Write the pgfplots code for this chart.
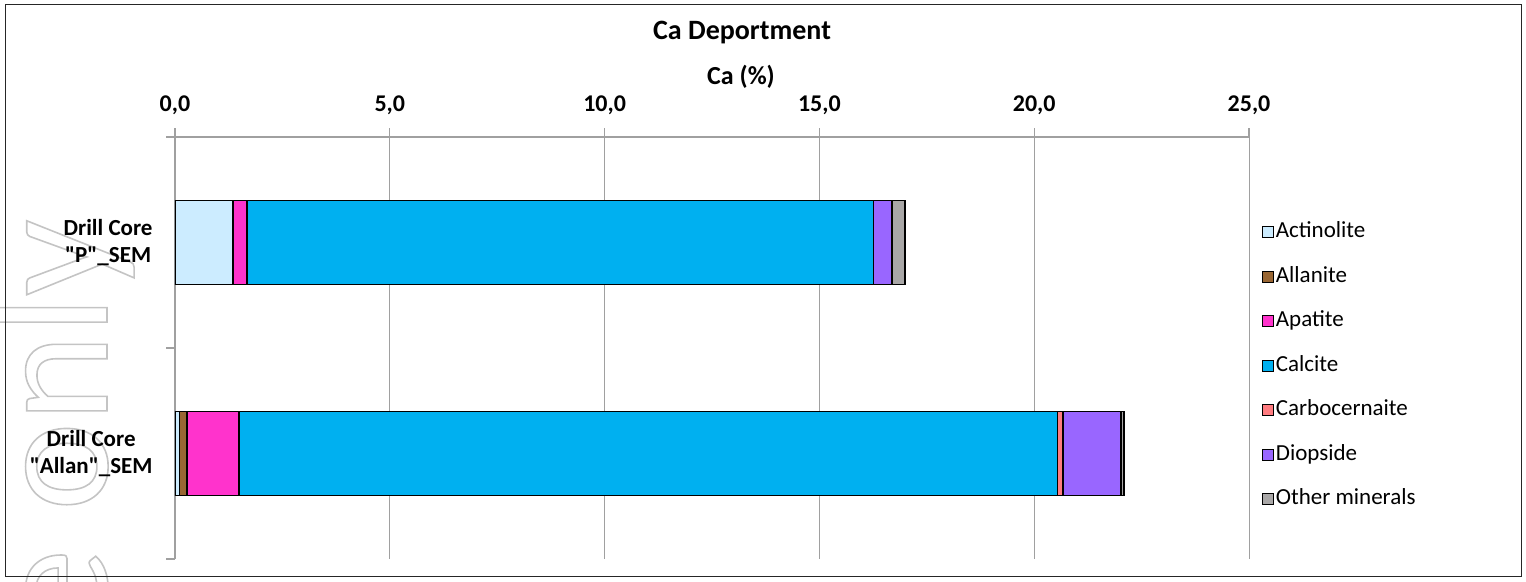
\documentclass[border=0pt]{standalone}
\usepackage{fontspec}
\setmainfont{Carlito}[Ligatures=TeXOff]
\newfontfamily\wmfont{Carlito}[Ligatures=TeXOff]
\usepackage{pgfplots}
\pgfplotsset{compat=1.18}
\definecolor{cAct}{HTML}{CCECFF}
\definecolor{cAll}{HTML}{996633}
\definecolor{cApa}{HTML}{FF33CC}
\definecolor{cCal}{HTML}{00B0F0}
\definecolor{cCar}{HTML}{FF7C80}
\definecolor{cDio}{HTML}{9966FF}
\definecolor{cOth}{HTML}{A9A7A7}
\definecolor{axgray}{HTML}{A0A0A0}
\definecolor{wmgray}{HTML}{C4C4C4}
\pgfplotsset{sqlegend/.style={legend image code/.code={\draw[##1,line width=0.6pt,draw=black] (0pt,-2.7pt) rectangle (5.4pt,2.7pt);}}}
\begin{document}
\begin{tikzpicture}[x=1pt,y=1pt]
\useasboundingbox (0,0) rectangle (763,291);
\begin{scope}
\clip (0,0) rectangle (763,291);
\node[rotate=90, anchor=base east, inner sep=0pt, text=wmgray, font=\wmfont\fontsize{84}{88}\selectfont] at (53.5,181.5) {\special{pdf:literal direct 1 Tr 0.8 w}use only\special{pdf:literal direct 0 Tr}};
\end{scope}
\draw[black!85, line width=0.5pt] (2.5,2.5) rectangle (760.5,288.75);
\begin{axis}[
  at={(87.5pt,11.5pt)}, anchor=south west,
  scale only axis, width=537pt, height=211pt,
  xbar stacked, bar width=0.4,
  xmin=0, xmax=25, ymin=-0.5, ymax=1.5,
  axis x line*=top, axis y line*=left,
  axis line style={draw=axgray, line width=0.6pt},
  xtick={0,5,10,15,20,25},
  xticklabels={{0,0},{5,0},{10,0},{15,0},{20,0},{25,0}},
  xmajorgrids, grid style={draw=axgray, line width=0.5pt},
  tick align=outside, major tick length=4.3pt,
  tick style={draw=axgray, line width=0.6pt},
  ytick={-0.5,0.5,1.5},
  y tick label as interval,
  yticklabels={{Drill Core\\"Allan"\_SEM},{Drill Core\\"P"\_SEM},{}},
  yticklabel style={align=center, font=\bfseries\fontsize{11.5}{13.5}\selectfont, xshift=-3.4pt},
  xticklabel style={font=\bfseries\fontsize{12}{14}\selectfont, yshift=3.5pt},
  xlabel={Ca (\%)},
  xlabel style={at={(axis description cs:0.527,1.142)}, anchor=center, font=\bfseries\fontsize{13}{15}\selectfont},
  title={Ca Deportment},
  title style={at={(axis description cs:0.528,1.2536)}, anchor=center, yshift=-7.5pt, font=\bfseries\fontsize{14}{16}\selectfont},
  legend cell align=left,
  legend style={at={(axis description cs:1.012,0.458)}, anchor=west, draw=none, fill=none,
    inner sep=0pt, row sep=11.75pt, column sep=0.8pt,
    nodes={inner sep=0pt, text height=8pt, text depth=2.5pt, font=\fontsize{11.5}{13.5}\selectfont}},
  every axis plot/.append style={draw=black, line width=0.75pt},
]
\addplot[fill=cAct, sqlegend] coordinates {(0.10,0) (1.35,1)};
\addplot[fill=cAll, sqlegend] coordinates {(0.18,0) (0,1)};
\addplot[fill=cApa, sqlegend] coordinates {(1.21,0) (0.33,1)};
\addplot[fill=cCal, sqlegend] coordinates {(19.05,0) (14.58,1)};
\addplot[fill=cCar, sqlegend] coordinates {(0.13,0) (0,1)};
\addplot[fill=cDio, sqlegend] coordinates {(1.35,0) (0.435,1)};
\addplot[fill=cOth, sqlegend] coordinates {(0.07,0) (0.30,1)};
\legend{Actinolite,Allanite,Apatite,Calcite,Carbocernaite,Diopside,Other minerals}
\end{axis}
\end{tikzpicture}
\end{document}
